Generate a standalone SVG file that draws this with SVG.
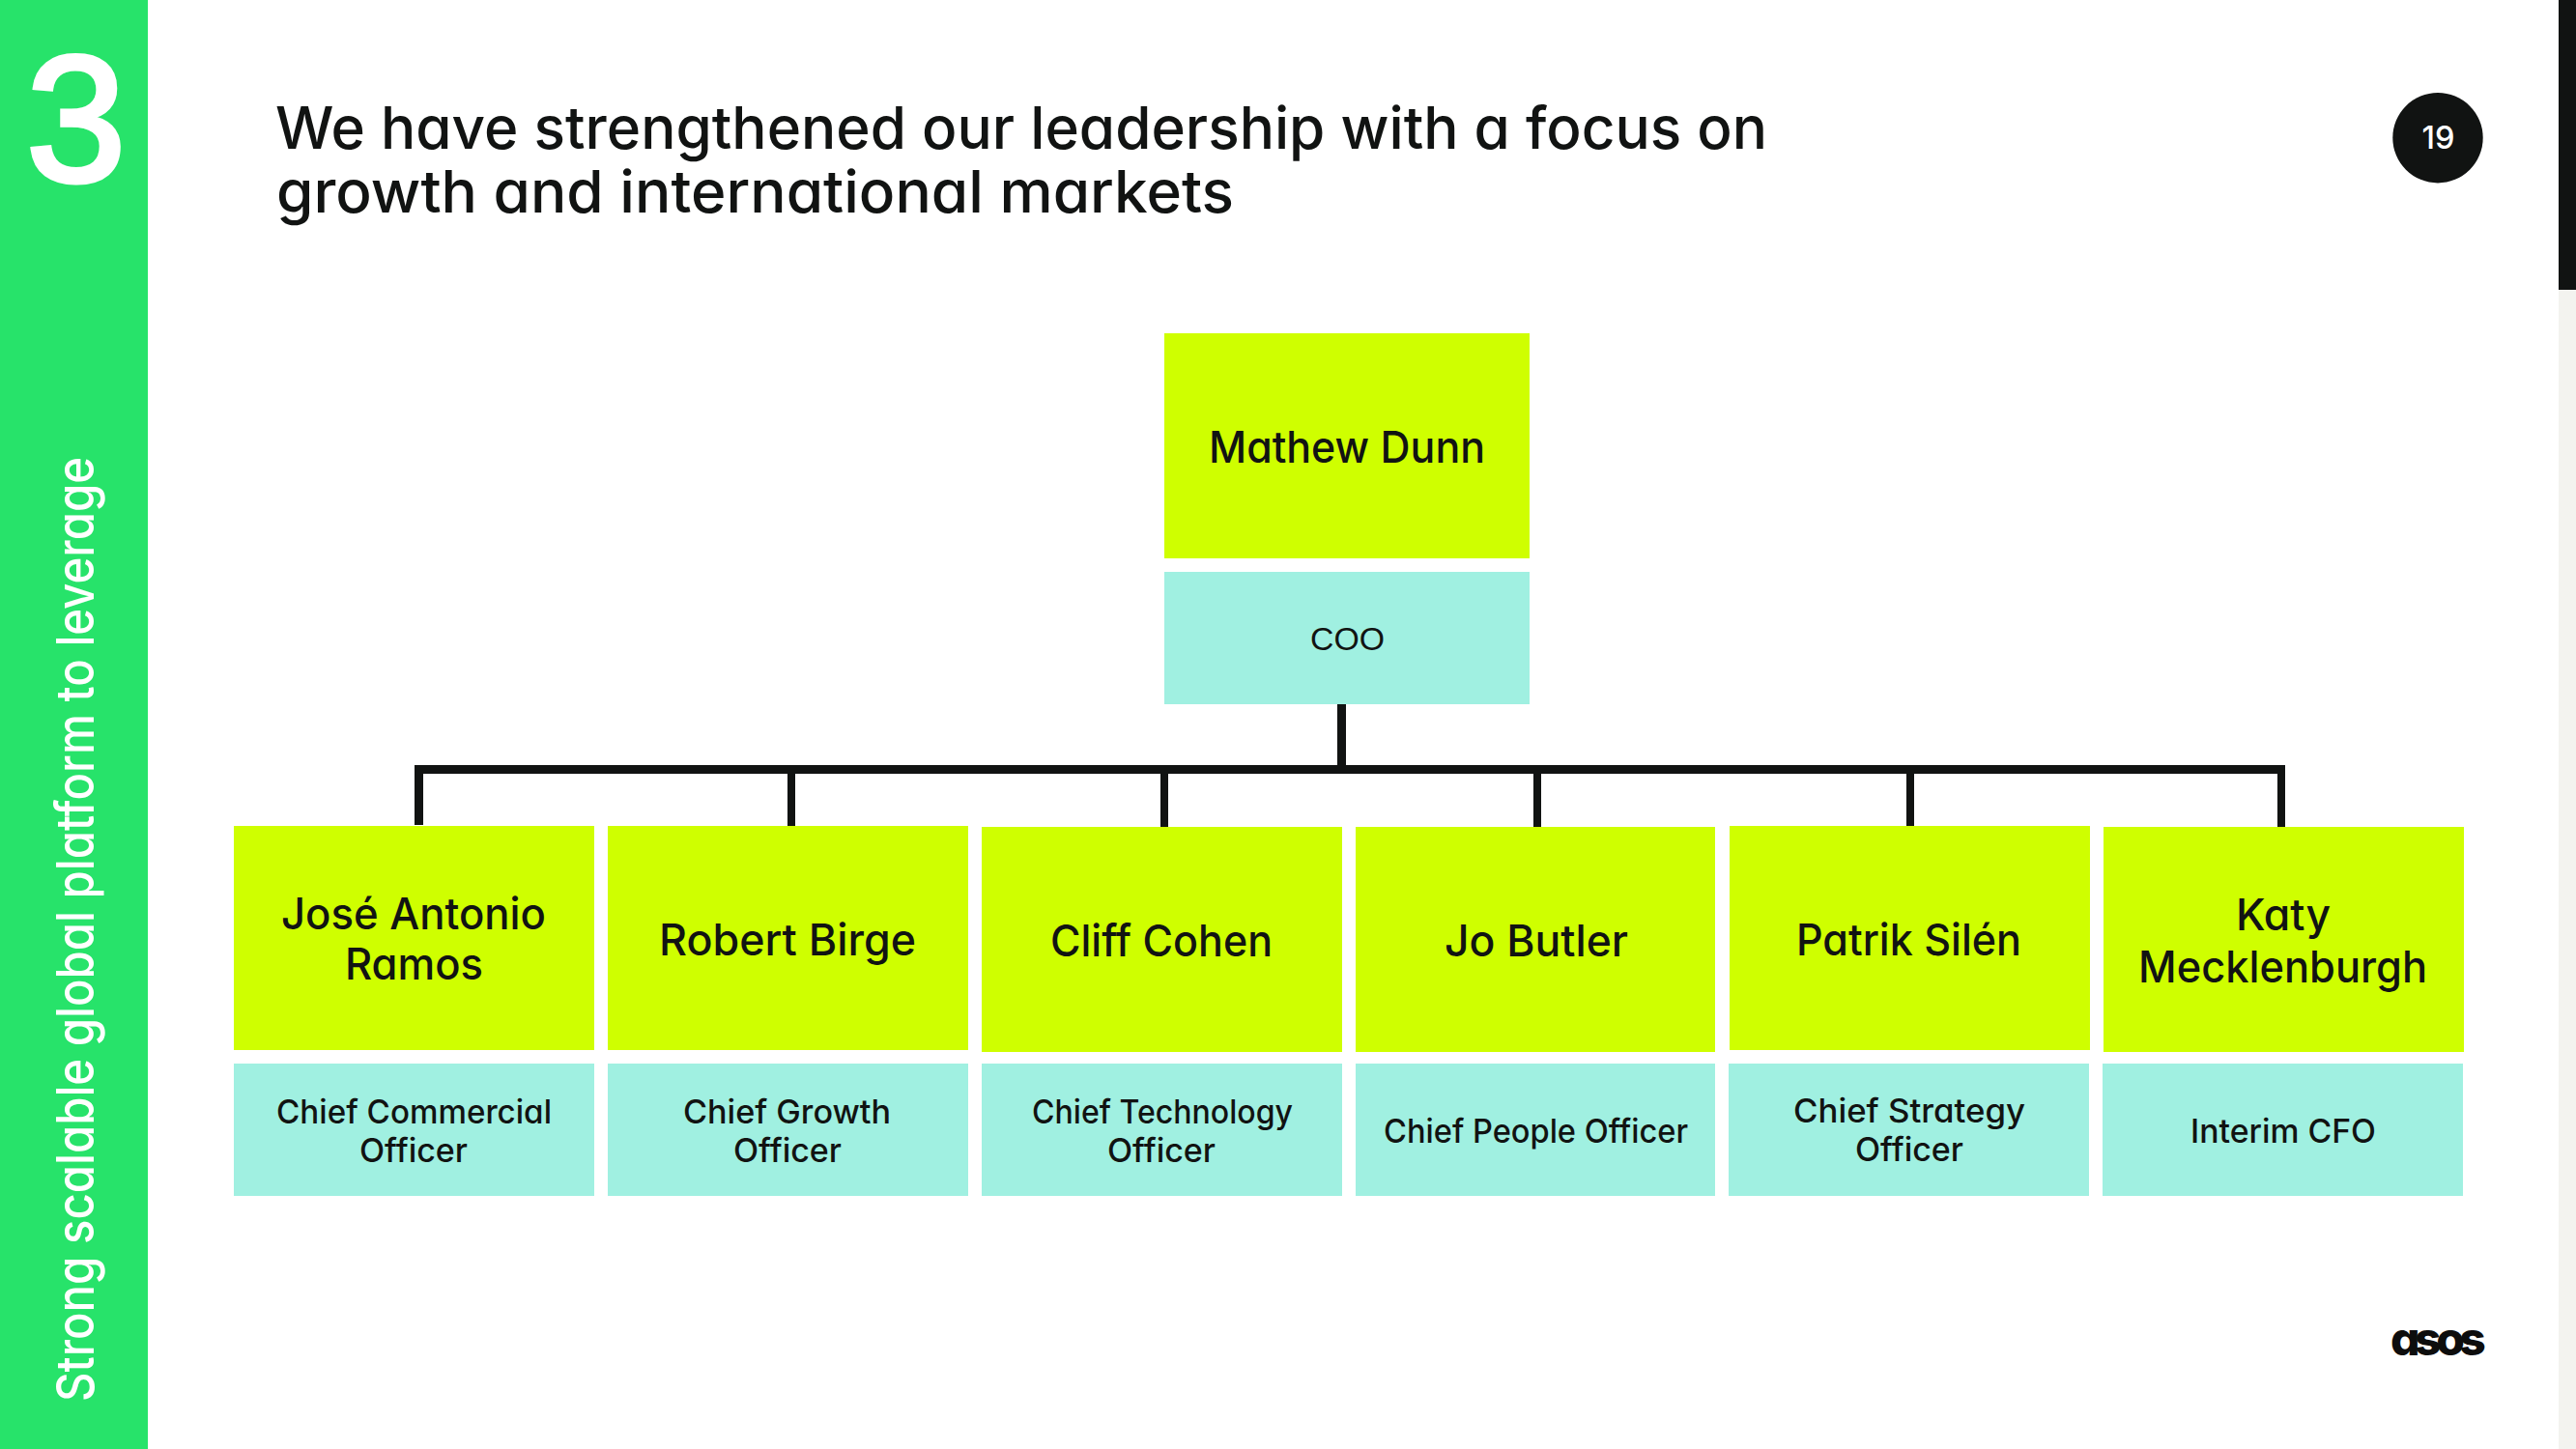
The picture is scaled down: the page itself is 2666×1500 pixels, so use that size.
<svg xmlns="http://www.w3.org/2000/svg" width="2666" height="1500" viewBox="0 0 2666 1500">
  <style>
    .ui { font-family: Inter, "Liberation Sans", sans-serif; font-feature-settings: "cv11" 1; fill: #111312; }
    .title { font-size: 61px; font-weight: 500; }
    .name { font-size: 45px; font-weight: 500; }
    .role { font-size: 34px; font-weight: 500; }
    .name-box { fill: #cfff00; }
    .role-box { fill: #a0f0e1; }
    .wire { stroke: #111312; fill: none; }
    .bus { stroke-width: 9; }
    .drop { stroke-width: 8; }
  </style>

  <rect width="2666" height="1500" fill="#ffffff"/>
  <rect x="2648" y="0" width="18" height="1500" fill="#f3f3ef"/>
  <rect x="2648" y="0" width="18" height="300" fill="#111312"/>

  <g id="section-band">
    <rect x="0" y="0" width="153" height="1500" fill="#27e36a"/>
    <text x="27" y="187" font-family="'Liberation Sans', sans-serif" font-size="186" fill="#ffffff" stroke="#ffffff" stroke-width="5">3</text>
    <text transform="translate(97 1451) rotate(-90)" class="ui" style="fill:#ffffff" font-size="54" font-weight="500" textLength="978" lengthAdjust="spacingAndGlyphs">Strong scalable global platform to leverage</text>
  </g>

  <g id="heading">
    <text class="ui title" x="285" y="154" textLength="1544" lengthAdjust="spacingAndGlyphs">We have strengthened our leadership with a focus on</text>
    <text class="ui title" x="286" y="220" textLength="991" lengthAdjust="spacingAndGlyphs">growth and international markets</text>
  </g>

  <g id="page-number">
    <circle cx="2523" cy="142.7" r="46.7" fill="#111312"/>
    <text x="2506.5" y="154" font-family="Inter, 'Liberation Sans', sans-serif" font-size="33" font-weight="500" fill="#ffffff" textLength="34" lengthAdjust="spacingAndGlyphs">19</text>
  </g>

  <g id="connectors">
    <path class="wire bus" d="M1388.5 729V797"/>
    <path class="wire bus" d="M429 796.5H2365"/>
    <path class="wire bus" d="M433.5 796V854"/>
    <path class="wire drop" d="M819 800V856"/>
    <path class="wire drop" d="M1205 800V856"/>
    <path class="wire drop" d="M1591 800V856"/>
    <path class="wire drop" d="M1977 800V855"/>
    <path class="wire drop" d="M2361 796V856"/>
  </g>

  <g id="mathew-dunn">
    <rect class="name-box" x="1205" y="345" width="378" height="233"/>
    <rect class="role-box" x="1205" y="592" width="378" height="137"/>
    <text class="ui name" x="1251" y="479" textLength="286" lengthAdjust="spacingAndGlyphs">Mathew Dunn</text>
    <text x="1356" y="672.5" font-family="'Liberation Sans', sans-serif" font-size="34" fill="#111312" textLength="77" lengthAdjust="spacingAndGlyphs">COO</text>
  </g>

  <g id="jose-antonio-ramos">
    <rect class="name-box" x="242" y="855" width="373" height="232"/>
    <rect class="role-box" x="242" y="1101" width="373" height="137"/>
    <text class="ui name" x="291" y="962" textLength="274" lengthAdjust="spacingAndGlyphs">José Antonio</text>
    <text class="ui name" x="357" y="1014" textLength="143" lengthAdjust="spacingAndGlyphs">Ramos</text>
    <text class="ui role" x="286" y="1163" textLength="285" lengthAdjust="spacingAndGlyphs">Chief Commercial</text>
    <text class="ui role" x="372" y="1203" textLength="112" lengthAdjust="spacingAndGlyphs">Officer</text>
  </g>

  <g id="robert-birge">
    <rect class="name-box" x="629" y="855" width="373" height="232"/>
    <rect class="role-box" x="629" y="1101" width="373" height="137"/>
    <text class="ui name" x="682" y="989" textLength="266" lengthAdjust="spacingAndGlyphs">Robert Birge</text>
    <text class="ui role" x="707" y="1163" textLength="215" lengthAdjust="spacingAndGlyphs">Chief Growth</text>
    <text class="ui role" x="759" y="1203" textLength="112" lengthAdjust="spacingAndGlyphs">Officer</text>
  </g>

  <g id="cliff-cohen">
    <rect class="name-box" x="1016" y="856" width="373" height="233"/>
    <rect class="role-box" x="1016" y="1101" width="373" height="137"/>
    <text class="ui name" x="1087" y="990" textLength="230" lengthAdjust="spacingAndGlyphs">Cliff Cohen</text>
    <text class="ui role" x="1068" y="1163" textLength="270" lengthAdjust="spacingAndGlyphs">Chief Technology</text>
    <text class="ui role" x="1146" y="1203" textLength="112" lengthAdjust="spacingAndGlyphs">Officer</text>
  </g>

  <g id="jo-butler">
    <rect class="name-box" x="1403" y="856" width="372" height="233"/>
    <rect class="role-box" x="1403" y="1101" width="372" height="137"/>
    <text class="ui name" x="1495" y="990" textLength="190" lengthAdjust="spacingAndGlyphs">Jo Butler</text>
    <text class="ui role" x="1432" y="1183" textLength="315" lengthAdjust="spacingAndGlyphs">Chief People Officer</text>
  </g>

  <g id="patrik-silen">
    <rect class="name-box" x="1790" y="855" width="373" height="232"/>
    <rect class="role-box" x="1789" y="1101" width="373" height="137"/>
    <text class="ui name" x="1859" y="989" textLength="233" lengthAdjust="spacingAndGlyphs">Patrik Silén</text>
    <text class="ui role" x="1856" y="1162" textLength="240" lengthAdjust="spacingAndGlyphs">Chief Strategy</text>
    <text class="ui role" x="1920" y="1202" textLength="112" lengthAdjust="spacingAndGlyphs">Officer</text>
  </g>

  <g id="katy-mecklenburgh">
    <rect class="name-box" x="2177" y="856" width="373" height="233"/>
    <rect class="role-box" x="2176" y="1101" width="373" height="137"/>
    <text class="ui name" x="2314" y="963" textLength="98" lengthAdjust="spacingAndGlyphs">Katy</text>
    <text class="ui name" x="2213" y="1017" textLength="299" lengthAdjust="spacingAndGlyphs">Mecklenburgh</text>
    <text class="ui role" x="2267" y="1183" textLength="192" lengthAdjust="spacingAndGlyphs">Interim CFO</text>
  </g>

  <g id="wordmark">
    <text class="ui" x="2474" y="1403" font-size="48" font-weight="800" letter-spacing="-5.5" style="fill:#0d0d0d">asos</text>
  </g>
</svg>
